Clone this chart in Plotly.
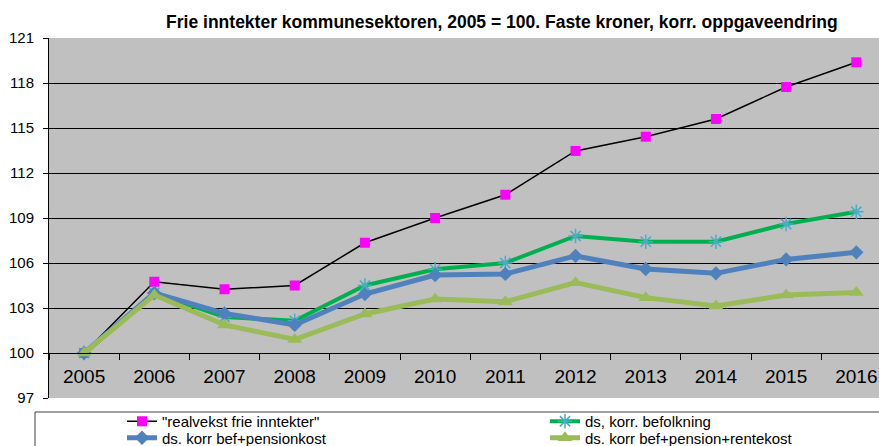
import plotly.graph_objects as go

years = ["2005", "2006", "2007", "2008", "2009", "2010", "2011", "2012", "2013", "2014", "2015", "2016"]
realvekst = [100, 104.75, 104.25, 104.5, 107.35, 109.0, 110.55, 113.47, 114.42, 115.6, 117.73, 119.38]
befolkning = [100, 104.0, 102.4, 102.15, 104.5, 105.58, 106.0, 107.8, 107.42, 107.42, 108.6, 109.42]
pensionkost = [100, 104.0, 102.64, 101.87, 103.93, 105.2, 105.27, 106.47, 105.6, 105.31, 106.24, 106.71]
rentekost = [100, 103.87, 101.87, 100.9, 102.6, 103.6, 103.42, 104.69, 103.69, 103.13, 103.87, 104.04]
y_ticks = [97, 100, 103, 106, 109, 112, 115, 118, 121]

title = "Frie inntekter kommunesektoren, 2005 = 100. Faste kroner, korr. oppgaveendring"
FONT = "Liberation Sans, Arial, sans-serif"

fig = go.Figure()
fig.add_trace(go.Scatter(
    x=years, y=realvekst, name='"realvekst frie inntekter"', mode="lines+markers",
    line=dict(color="#000000", width=1.5),
    marker=dict(symbol="square", size=10, color="#FF00FF", line=dict(width=0)),
    legend="legend",
))
fig.add_trace(go.Scatter(
    x=years, y=befolkning, name="ds, korr. befolkning", mode="lines+markers",
    line=dict(color="#00B050", width=4),
    marker=dict(symbol="asterisk-open", size=12, color="#4BACC6", line=dict(width=1.5, color="#4BACC6")),
    legend="legend2",
))
fig.add_trace(go.Scatter(
    x=years, y=pensionkost, name="ds. korr bef+pensionkost", mode="lines+markers",
    line=dict(color="#4F81BD", width=5),
    marker=dict(symbol="diamond", size=11, color="#4F81BD", line=dict(width=0)),
    legend="legend3",
))
fig.add_trace(go.Scatter(
    x=years, y=rentekost, name="ds. korr bef+pension+rentekost", mode="lines+markers",
    line=dict(color="#9BBB59", width=5),
    marker=dict(symbol="triangle-up", size=13, color="#9BBB59", line=dict(width=0)),
    legend="legend4",
))

legend_common = dict(
    orientation="v", xref="container", yref="container",
    xanchor="left", yanchor="top",
    font=dict(family=FONT, size=15, color="#000000"),
    bgcolor="rgba(0,0,0,0)", borderwidth=0, tracegroupgap=0,
    itemwidth=30,
)

fig.update_layout(
    width=879, height=446,
    margin=dict(l=49, r=0, t=38, b=48, autoexpand=False),
    paper_bgcolor="#FFFFFF",
    plot_bgcolor="#C0C0C0",
    font=dict(family=FONT, color="#000000"),
    title=dict(
        text="<b>" + title + "</b>", font=dict(family=FONT, size=17.5, color="#000000"),
        xref="container", x=0.571, xanchor="center",
        yref="container", y=1 - 28 / 446, yanchor="bottom",
    ),
    xaxis=dict(
        type="category", categoryorder="array", categoryarray=years,
        range=[-0.5, 11.323], anchor="free", position=0.125,
        showgrid=False, zeroline=False,
        showline=True, linecolor="#000000", linewidth=1,
        ticks="outside", ticklen=6, tickcolor="#000000", tickwidth=1,
        tickson="boundaries", ticklabelstandoff=6,
        tickfont=dict(family=FONT, size=19, color="#000000"),
    ),
    yaxis=dict(
        range=[97, 121], tickmode="array", tickvals=y_ticks,
        showgrid=True, gridcolor="#000000", gridwidth=1,
        zeroline=False, showline=True, linecolor="#000000", linewidth=1,
        ticks="outside", ticklen=5, tickcolor="#000000",
        ticklabelstandoff=6,
        tickfont=dict(family=FONT, size=15, color="#000000"),
    ),
    showlegend=True,
    legend=dict(legend_common, x=122 / 879, y=1 - 405 / 446),
    legend2=dict(legend_common, x=545 / 879, y=1 - 405 / 446),
    legend3=dict(legend_common, x=122 / 879, y=1 - 421.5 / 446),
    legend4=dict(legend_common, x=545 / 879, y=1 - 421.5 / 446),
    shapes=[dict(
        type="rect", xref="paper", yref="paper",
        x0=(35 - 49) / 830, x1=1.1, y0=-(412 - 398) / 360, y1=-0.4,
        line=dict(color="#404040", width=1), fillcolor="#FFFFFF", layer="below",
    )],
)

fig.write_html(
    "out.html",
    config={"displayModeBar": False},
    post_script="document.body.style.margin='0px';document.body.style.overflow='hidden';",
)
